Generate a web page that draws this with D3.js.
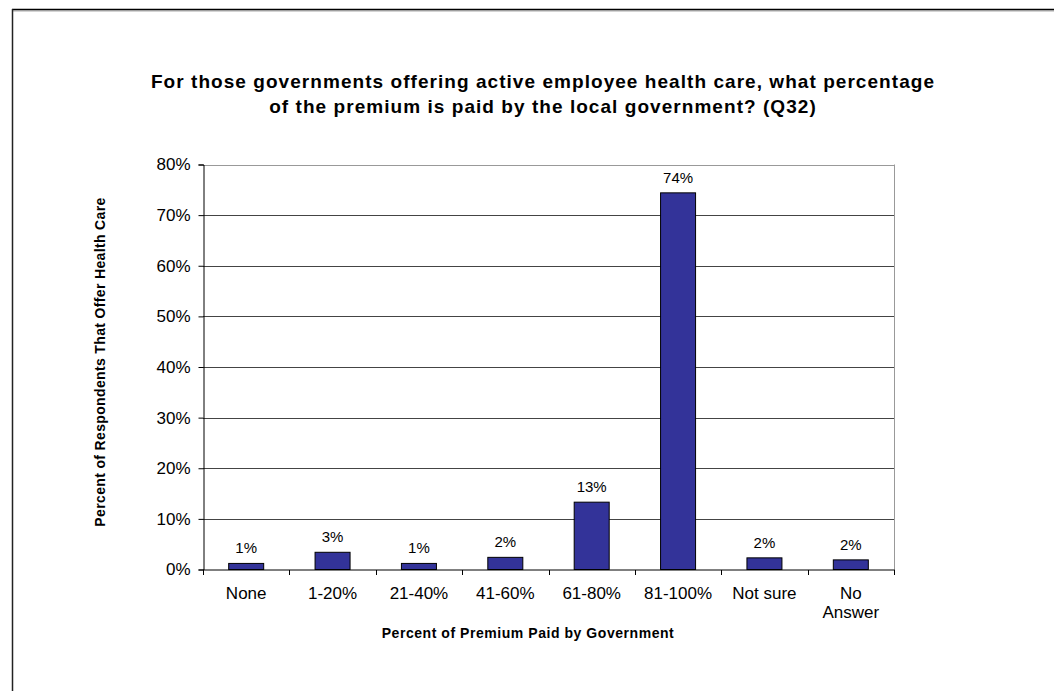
<!DOCTYPE html>
<html>
<head>
<meta charset="utf-8">
<script src="https://cdn.jsdelivr.net/npm/d3@7/dist/d3.min.js"></script>
<style>
  html, body { margin: 0; padding: 0; background: #fff; }
  svg { display: block; font-family: "Liberation Sans", Arial, sans-serif; }
</style>
</head>
<body>
<svg id="chart" width="1054" height="691"></svg>
<script>
// Share of respondents by premium percentage paid by the government
const categories = ["None", "1-20%", "21-40%", "41-60%", "61-80%", "81-100%", "Not sure", "No Answer"];
const values = [1.2, 3.4, 1.2, 2.4, 13.3, 74.4, 2.3, 1.9];
const yTicks = [0, 10, 20, 30, 40, 50, 60, 70, 80];
const titleLines = [
  "For those governments offering active employee health care, what percentage",
  "of the premium is paid by the local government? (Q32)"
];
const xTitle = "Percent of Premium Paid by Government";
const yTitle = "Percent of Respondents That Offer Health Care";

const svg = d3.select("#chart");
const W = 1054, H = 691;
const plot = { left: 203, right: 894, top: 164.5, bottom: 569.5 };

// outer frame
svg.append("line").attr("x1", 12).attr("x2", W).attr("y1", 11).attr("y2", 11)
  .attr("stroke", "#aaa").attr("stroke-width", 1);
svg.append("line").attr("x1", 12).attr("x2", W).attr("y1", 9.5).attr("y2", 9.5)
  .attr("stroke", "#000").attr("stroke-width", 1.5);
svg.append("line").attr("x1", 12.5).attr("x2", 12.5).attr("y1", 9).attr("y2", H)
  .attr("stroke", "#222").attr("stroke-width", 1.5);

const x = d3.scaleBand().domain(categories).range([plot.left, plot.right]).paddingInner(0).paddingOuter(0);
const y = d3.scaleLinear().domain([0, 80]).range([plot.bottom, plot.top]);

// gridlines
svg.append("g").selectAll("line").data(yTicks.filter(t => t > 0)).join("line")
  .attr("x1", plot.left).attr("x2", plot.right)
  .attr("y1", d => Math.round(y(d)) + 0.5).attr("y2", d => Math.round(y(d)) + 0.5)
  .attr("stroke", d => d === 80 ? "#999" : "#444").attr("stroke-width", 1);

// right border of plot area
svg.append("line").attr("x1", plot.right + 0.5).attr("x2", plot.right + 0.5)
  .attr("y1", plot.top).attr("y2", plot.bottom)
  .attr("stroke", "#999").attr("stroke-width", 1);

// bars
const bw = 35;
svg.append("g").selectAll("rect").data(values).join("rect")
  .attr("x", (d, i) => x(categories[i]) + x.bandwidth() / 2 - bw / 2)
  .attr("y", d => y(d))
  .attr("width", bw)
  .attr("height", d => y(0) - y(d))
  .attr("fill", "#333399")
  .attr("stroke", "#000")
  .attr("stroke-width", 1);

// value labels
const fmt = v => d3.format(".0f")(v) + "%";
svg.append("g").selectAll("text").data(values).join("text")
  .attr("x", (d, i) => x(categories[i]) + x.bandwidth() / 2)
  .attr("y", d => y(d) - 10)
  .attr("text-anchor", "middle")
  .attr("font-size", 15)
  .attr("fill", "#000")
  .text(fmt);

// y axis
const yAxis = d3.axisLeft(y).tickValues(yTicks).tickSize(5).tickPadding(8)
  .tickFormat(d => d + "%");
const gy = svg.append("g").attr("transform", `translate(${plot.left + 0.5},0)`).call(yAxis);
gy.select(".domain").attr("stroke", "#000");
gy.selectAll(".tick line").attr("stroke", "#000");
gy.selectAll(".tick text").attr("font-size", 17).attr("font-family", "Liberation Sans, Arial, sans-serif").attr("fill", "#000");

// x axis: ticks at category boundaries
const gx = svg.append("g").attr("transform", `translate(0,${plot.bottom + 0.5})`);
gx.append("line").attr("x1", plot.left).attr("x2", plot.right + 1)
  .attr("stroke", "#000");
const bounds = categories.map(c => x(c)).concat([plot.right]);
gx.selectAll("line.tk").data(bounds).join("line").attr("class", "tk")
  .attr("x1", d => Math.round(d) + 0.5).attr("x2", d => Math.round(d) + 0.5)
  .attr("y1", 0).attr("y2", 5).attr("stroke", "#000");

const catText = gx.selectAll("text.cat").data(categories).join("text").attr("class", "cat")
  .attr("x", d => x(d) + x.bandwidth() / 2)
  .attr("y", 29)
  .attr("text-anchor", "middle")
  .attr("font-size", 17)
  .attr("fill", "#000");
catText.each(function(d) {
  const words = d === "No Answer" ? ["No", "Answer"] : [d];
  const t = d3.select(this);
  words.forEach((w, i) => {
    t.append("tspan").attr("x", x(d) + x.bandwidth() / 2).attr("dy", i === 0 ? 0 : 18.5).text(w);
  });
});

// title
svg.append("g").selectAll("text").data(titleLines).join("text")
  .attr("x", 543).attr("y", (d, i) => 88 + i * 25)
  .attr("text-anchor", "middle")
  .attr("font-size", 19).attr("font-weight", "bold").attr("fill", "#000")
  .attr("letter-spacing", 1.05)
  .text(d => d);

// axis titles
svg.append("text").attr("x", 528).attr("y", 638)
  .attr("text-anchor", "middle").attr("font-size", 14).attr("font-weight", "bold")
  .attr("letter-spacing", 0.55)
  .text(xTitle);
svg.append("text")
  .attr("transform", "translate(105,362) rotate(-90)")
  .attr("text-anchor", "middle").attr("font-size", 14).attr("font-weight", "bold")
  .attr("letter-spacing", 0.35)
  .text(yTitle);
</script>
</body>
</html>
